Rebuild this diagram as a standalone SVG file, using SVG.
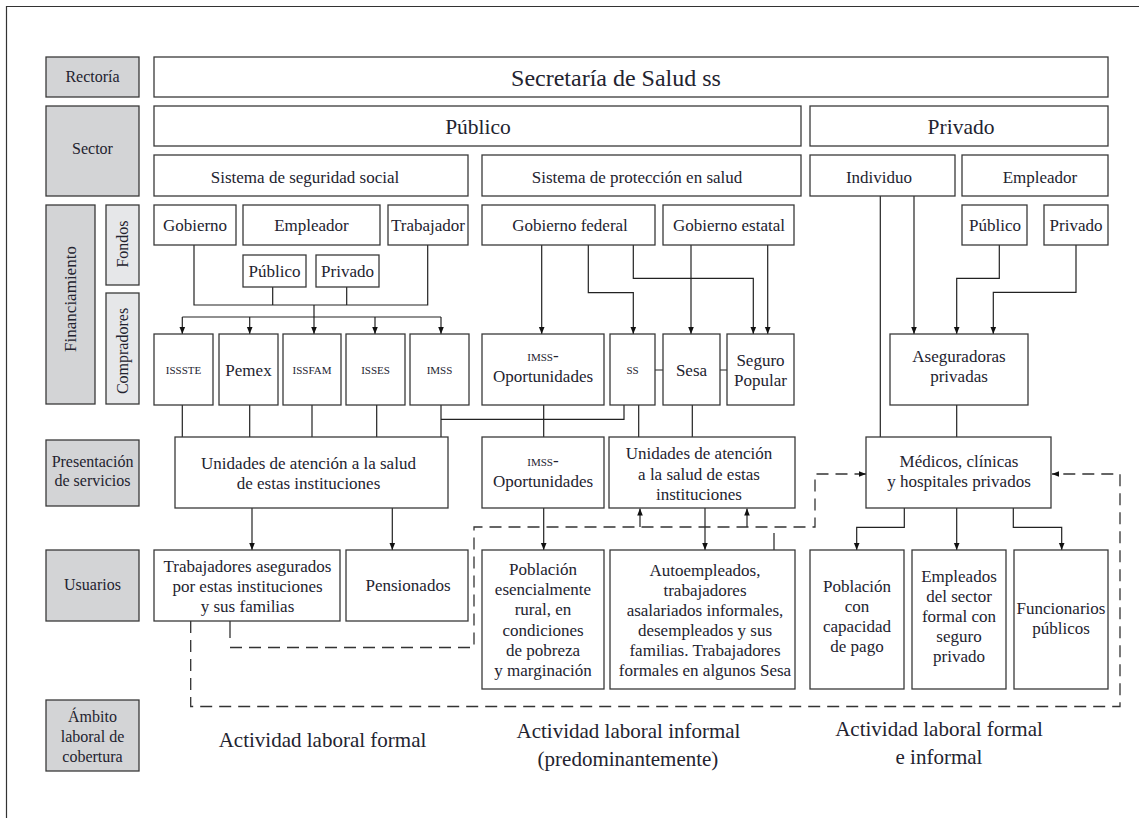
<svg xmlns="http://www.w3.org/2000/svg" width="1139" height="818" viewBox="0 0 1139 818">
<style>
.box{fill:#fff;stroke:#3a3a3a;stroke-width:1.3}
.lab{fill:#d3d4d6;stroke:#3a3a3a;stroke-width:1.3}
.lab2{fill:#e6e7e9;stroke:#3a3a3a;stroke-width:1.3}
text{font-family:"Liberation Serif","Times New Roman",serif;fill:#23232f;text-anchor:middle;font-size:17px}
.s{font-size:11px}
.l{font-size:16px}
.big{font-size:24px}
.m{font-size:21.5px}
.h{font-size:21px}
.ln{fill:none;stroke:#222;stroke-width:1.2}
.ds{fill:none;stroke:#333;stroke-width:1.3;stroke-dasharray:12 7}
</style>
<defs>
<marker id="ah" viewBox="0 0 10 10" refX="10" refY="5" markerWidth="7" markerHeight="7" orient="auto" markerUnits="userSpaceOnUse"><path d="M0,1 L10,5 L0,9 z" fill="#111"/></marker>
</defs>
<rect width="1139" height="818" fill="#fff"/>
<path d="M6.5,818 V6.5 H1139" fill="none" stroke="#333" stroke-width="1.2"/>

<g id="labels">
<g id="l-rectoria"><rect class="lab" x="46" y="57" width="93" height="40"/><text class="l" x="92.5" y="82">Rectoría</text></g>
<g id="l-sector"><rect class="lab" x="46" y="106" width="93" height="90"/><text class="l" x="92.5" y="153.5">Sector</text></g>
<g id="l-financiamiento"><rect class="lab" x="46" y="205" width="49" height="199"/><text transform="translate(76,299) rotate(-90)">Financiamiento</text></g>
<g id="l-fondos"><rect class="lab2" x="106" y="205" width="33" height="80"/><text class="l" transform="translate(128,244) rotate(-90)">Fondos</text></g>
<g id="l-compradores"><rect class="lab2" x="106" y="293" width="33" height="111"/><text class="l" transform="translate(128,351) rotate(-90)">Compradores</text></g>
<g id="l-presentacion"><rect class="lab" x="46" y="440" width="93" height="66"/><text class="l" x="92.5" y="467">Presentación</text><text class="l" x="92.5" y="486">de servicios</text></g>
<g id="l-usuarios"><rect class="lab" x="46" y="550" width="93" height="71"/><text class="l" x="92.5" y="590">Usuarios</text></g>
<g id="l-ambito"><rect class="lab" x="46" y="700" width="93" height="71"/><text class="l" x="92.5" y="722">Ámbito</text><text class="l" x="92.5" y="742">laboral de</text><text class="l" x="92.5" y="762">cobertura</text></g>
</g>

<g id="connectors">
<path class="ln" d="M194,245 V305 H427.7 V245"/>
<path class="ln" d="M272.7,287 V305 M346.7,287 V305 M314,305 V317 M182.3,317 H441"/>
<path class="ln" marker-end="url(#ah)" d="M182.3,317 V334"/>
<path class="ln" marker-end="url(#ah)" d="M249.7,317 V334"/>
<path class="ln" marker-end="url(#ah)" d="M314,317 V334"/>
<path class="ln" marker-end="url(#ah)" d="M375,317 V334"/>
<path class="ln" marker-end="url(#ah)" d="M441,317 V334"/>
<path class="ln" marker-end="url(#ah)" d="M541.7,245 V334"/>
<path class="ln" marker-end="url(#ah)" d="M588.3,245 V292.7 H633.3 V334"/>
<path class="ln" marker-end="url(#ah)" d="M633.3,245 V278.3 H753.3 V334"/>
<path class="ln" marker-end="url(#ah)" d="M691,245 V334"/>
<path class="ln" marker-end="url(#ah)" d="M767.7,245 V334"/>
<path class="ln" d="M655,370 H663 M720,370 H727"/>
<path class="ln" d="M880.3,196 V437"/>
<path class="ln" marker-end="url(#ah)" d="M914,196 V334"/>
<path class="ln" marker-end="url(#ah)" d="M999.3,245 V278.3 H956.7 V334"/>
<path class="ln" marker-end="url(#ah)" d="M1076,245 V292.3 H993.3 V334"/>
<path class="ln" d="M956.7,405 V437"/>
<path class="ln" d="M182.3,405 V437 M249.7,405 V437 M312,405 V437 M376.7,405 V437 M441,405 V437 M441,419.3 H624 V405 M543.7,405 V437 M638.7,405 V437 M692.3,405 V437"/>
<path class="ln" marker-end="url(#ah)" d="M252,508 V550"/>
<path class="ln" marker-end="url(#ah)" d="M392.3,508 V550"/>
<path class="ln" marker-end="url(#ah)" d="M543.7,508 V550"/>
<path class="ln" marker-end="url(#ah)" d="M705,508 V550"/>
<path class="ln" marker-end="url(#ah)" d="M904.3,508 V527.3 H856.7 V550"/>
<path class="ln" marker-end="url(#ah)" d="M956.7,508 V550"/>
<path class="ln" marker-end="url(#ah)" d="M1013.3,508 V527.3 H1061.7 V550"/>
<path class="ln" d="M230,621 V638 M774,550 V533"/>
<path class="ln" marker-end="url(#ah)" d="M640,527 V508.5"/>
<path class="ln" marker-end="url(#ah)" d="M747,527 V508.5"/>
<path class="ds" marker-end="url(#ah)" d="M230,647.5 H474 V527 H815 V474 H866"/>
<path class="ds" marker-end="url(#ah)" d="M190.7,621 V706.5 H1120 V474 H1052"/>
</g>

<g id="n-secretaria"><rect class="box" x="154" y="57" width="954" height="40"/><text class="big" x="616" y="86">Secretaría de Salud ss</text></g>
<g id="n-publico"><rect class="box" x="154" y="106" width="647" height="40"/><text class="m" x="478" y="134">Público</text></g>
<g id="n-privado"><rect class="box" x="810" y="106" width="298" height="40"/><text class="m" x="961" y="134">Privado</text></g>
<g id="n-sss"><rect class="box" x="154" y="155" width="314" height="41"/><text x="305" y="182.5">Sistema de seguridad social</text></g>
<g id="n-sps"><rect class="box" x="482" y="155" width="319" height="41"/><text x="637" y="182.5">Sistema de protección en salud</text></g>
<g id="n-individuo"><rect class="box" x="810" y="155" width="145" height="41"/><text x="879" y="182.5">Individuo</text></g>
<g id="n-empleador-priv"><rect class="box" x="962" y="155" width="146" height="41"/><text x="1040" y="182.5">Empleador</text></g>

<g id="n-gobierno"><rect class="box" x="154" y="205" width="82" height="40"/><text x="195" y="230.5">Gobierno</text></g>
<g id="n-empleador"><rect class="box" x="243" y="205" width="137" height="40"/><text x="311.5" y="230.5">Empleador</text></g>
<g id="n-trabajador"><rect class="box" x="388" y="205" width="80" height="40"/><text x="428" y="230.5">Trabajador</text></g>
<g id="n-publico-emp"><rect class="box" x="243" y="255" width="63" height="32"/><text x="274.5" y="276.5">Público</text></g>
<g id="n-privado-emp"><rect class="box" x="316" y="255" width="63" height="32"/><text x="347.5" y="276.5">Privado</text></g>
<g id="n-gobfed"><rect class="box" x="482" y="205" width="173" height="40"/><text x="570" y="230.5">Gobierno federal</text></g>
<g id="n-gobest"><rect class="box" x="663" y="205" width="131" height="40"/><text x="729" y="230.5">Gobierno estatal</text></g>
<g id="n-publico-priv"><rect class="box" x="962" y="205" width="65" height="40"/><text x="995" y="230.5">Público</text></g>
<g id="n-privado-priv"><rect class="box" x="1044" y="205" width="64" height="40"/><text x="1076" y="230.5">Privado</text></g>

<g id="n-issste"><rect class="box" x="154" y="334" width="59" height="71"/><text class="s" x="183.5" y="374">ISSSTE</text></g>
<g id="n-pemex"><rect class="box" x="219" y="334" width="59" height="71"/><text x="248.5" y="376">Pemex</text></g>
<g id="n-issfam"><rect class="box" x="283" y="334" width="58" height="71"/><text class="s" x="312" y="374">ISSFAM</text></g>
<g id="n-isses"><rect class="box" x="346" y="334" width="59" height="71"/><text class="s" x="375.5" y="374">ISSES</text></g>
<g id="n-imss"><rect class="box" x="410" y="334" width="59" height="71"/><text class="s" x="439.5" y="374">IMSS</text></g>
<g id="n-imssop-comp"><rect class="box" x="482" y="334" width="122" height="71"/><text x="543" y="361"><tspan class="s">IMSS</tspan>-</text><text x="543" y="382">Oportunidades</text></g>
<g id="n-ss"><rect class="box" x="610" y="334" width="45" height="71"/><text class="s" x="632.5" y="374">SS</text></g>
<g id="n-sesa"><rect class="box" x="663" y="334" width="57" height="71"/><text x="691.5" y="375.5">Sesa</text></g>
<g id="n-seguro"><rect class="box" x="727" y="334" width="67" height="71"/><text x="760.5" y="366">Seguro</text><text x="760.5" y="386">Popular</text></g>
<g id="n-aseguradoras"><rect class="box" x="890" y="334" width="138" height="71"/><text x="959" y="362">Aseguradoras</text><text x="959" y="382">privadas</text></g>

<g id="n-unidades1"><rect class="box" x="175" y="437" width="273" height="71"/><text x="308.5" y="469">Unidades de atención a la salud</text><text x="308.5" y="489">de estas instituciones</text></g>
<g id="n-imssop-serv"><rect class="box" x="482" y="437" width="122" height="71"/><text x="543" y="466"><tspan class="s">IMSS</tspan>-</text><text x="543" y="486.5">Oportunidades</text></g>
<g id="n-unidades2"><rect class="box" x="609" y="437" width="186" height="71"/><text x="699" y="459">Unidades de atención</text><text x="699" y="479.5">a la salud de estas</text><text x="699" y="500">instituciones</text></g>
<g id="n-medicos"><rect class="box" x="866" y="437" width="185" height="71"/><text x="959" y="467">Médicos, clínicas</text><text x="959" y="487">y hospitales privados</text></g>

<g id="n-trabajadores"><rect class="box" x="154" y="550" width="186" height="71"/><text x="247.5" y="571.5">Trabajadores asegurados</text><text x="247.5" y="591.5">por estas instituciones</text><text x="247.5" y="611.5">y sus familias</text></g>
<g id="n-pensionados"><rect class="box" x="346" y="550" width="122" height="71"/><text x="408" y="591">Pensionados</text></g>
<g id="n-poblacion-rural"><rect class="box" x="482" y="550" width="122" height="139"/><text x="543" y="575">Población</text><text x="543" y="595">esencialmente</text><text x="543" y="615">rural, en</text><text x="543" y="635.5">condiciones</text><text x="543" y="656">de pobreza</text><text x="543" y="676">y marginación</text></g>
<g id="n-autoempleados"><rect class="box" x="610" y="550" width="185" height="139"/><text x="705" y="575.5">Autoempleados,</text><text x="705" y="595.5">trabajadores</text><text x="705" y="615.5">asalariados informales,</text><text x="705" y="636">desempleados y sus</text><text x="705" y="656">familias. Trabajadores</text><text x="705" y="676">formales en algunos Sesa</text></g>
<g id="n-poblacion-pago"><rect class="box" x="810" y="550" width="94" height="139"/><text x="857" y="592">Población</text><text x="857" y="612">con</text><text x="857" y="632">capacidad</text><text x="857" y="652">de pago</text></g>
<g id="n-empleados"><rect class="box" x="912" y="550" width="94" height="139"/><text x="959" y="582">Empleados</text><text x="959" y="602">del sector</text><text x="959" y="622">formal con</text><text x="959" y="642">seguro</text><text x="959" y="662">privado</text></g>
<g id="n-funcionarios"><rect class="box" x="1014" y="550" width="94" height="139"/><text x="1061" y="613.5">Funcionarios</text><text x="1061" y="633.5">públicos</text></g>

<g id="ambitos">
<text class="h" x="322.5" y="747">Actividad laboral formal</text>
<text class="h" x="628.5" y="738">Actividad laboral informal</text>
<text class="h" x="628" y="766">(predominantemente)</text>
<text class="h" x="939" y="736">Actividad laboral formal</text>
<text class="h" x="939" y="764">e informal</text>
</g>
</svg>
